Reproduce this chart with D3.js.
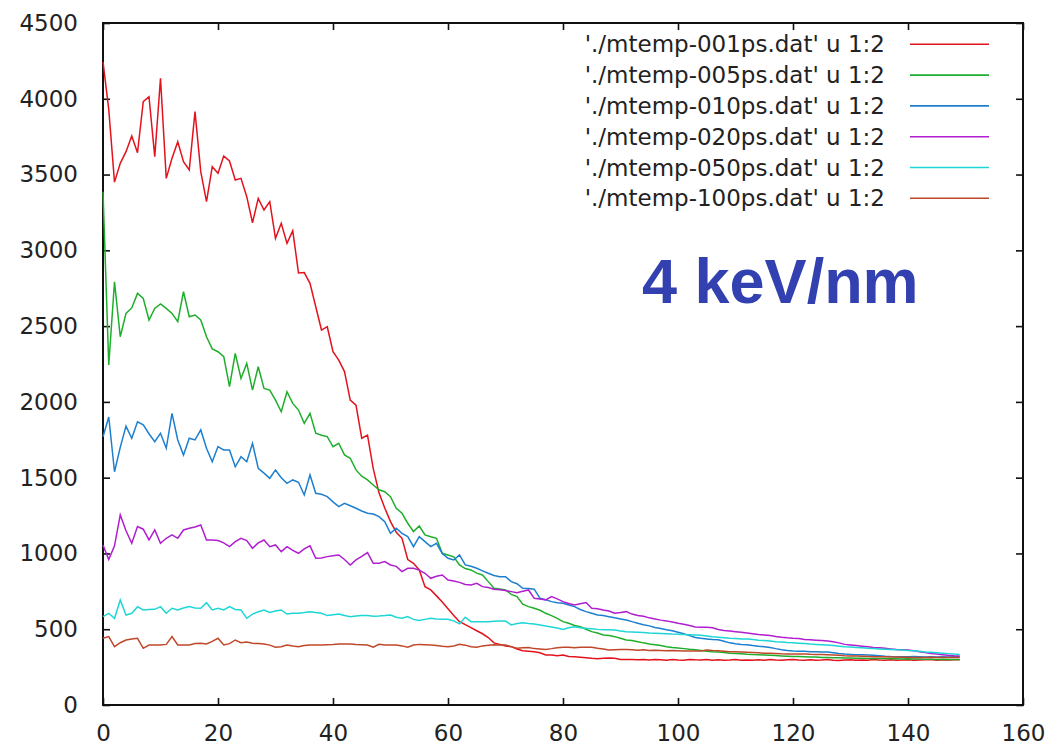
<!DOCTYPE html>
<html>
<head>
<meta charset="utf-8">
<script src="https://cdn.jsdelivr.net/npm/d3@7"></script>
<style>
  html, body { margin: 0; padding: 0; background: #fff; }
  svg { display: block; }
</style>
</head>
<body>
<svg id="chart" width="1049" height="745"></svg>
<script>
const xValues = [0,1,2,3,4,5,6,7,8,9,10,11,12,13,14,15,16,17,18,19,20,21,22,23,24,25,26,27,28,29,
30,31,32,33,34,35,36,37,38,39,40,41,42,43,44,45,46,47,48,49,50,51,52,53,54,55,56,57,58,59,
60,61,62,63,64,65,66,67,68,69,70,71,72,73,74,75,76,77,78,79,80,81,82,83,84,85,86,87,88,89,
90,91,92,93,94,95,96,97,98,99,100,101,102,103,104,105,106,107,108,109,110,111,112,113,114,115,116,117,118,119,
120,121,122,123,124,125,126,127,128,129,130,131,132,133,134,135,136,137,138,139,140,141,142,143,144,145,146,147,148,149];

const seriesNames = [
  "'./mtemp-001ps.dat' u 1:2",
  "'./mtemp-005ps.dat' u 1:2",
  "'./mtemp-010ps.dat' u 1:2",
  "'./mtemp-020ps.dat' u 1:2",
  "'./mtemp-050ps.dat' u 1:2",
  "'./mtemp-100ps.dat' u 1:2"
];

const temp001 = [4244,3930,3450,3574,3651,3754,3644,3981,4014,3618,
4135,3475,3607,3717,3585,3530,3915,3519,3321,3552,
3508,3622,3590,3464,3475,3354,3182,3343,3266,3321,
3079,3178,3046,3130,2850,2853,2782,2628,2474,2496,
2331,2276,2200,2012,1979,1760,1781,1560,1400,1300,
1210,1140,1100,960,935,891,781,759,720,680,
635,590,550,530,510,490,470,445,410,400,
390,385,370,358,355,352,345,330,330,325,
330,320,318,315,312,308,306,308,310,308,
300,301,300,298,300,297,300,298,296,300,
297,296,300,298,297,300,296,298,295,297,
300,296,297,295,298,296,300,297,296,298,
300,297,295,298,296,297,300,296,294,297,
298,295,297,296,300,297,295,298,296,297,
299,296,297,298,300,296,298,297,299,298];

const temp005 = [3387,2243,2793,2430,2584,2620,2716,2683,2540,2617,
2646,2617,2584,2529,2727,2562,2573,2540,2430,2350,
2331,2298,2100,2320,2155,2254,2078,2232,2089,2078,
2012,1935,2067,1990,1946,1858,1924,1793,1780,1771,
1704,1727,1650,1628,1551,1510,1485,1452,1420,1407,
1375,1298,1265,1199,1144,1181,1122,1110,1100,1001,
990,978,924,900,891,870,858,814,770,765,
759,730,715,665,649,638,625,605,590,572,
550,539,525,517,500,484,475,462,458,451,
440,429,425,418,410,403,398,392,385,380,
376,372,368,365,360,355,352,350,346,342,
340,338,335,333,332,330,328,326,324,322,
320,320,318,316,316,314,313,312,312,310,
310,309,308,307,307,306,306,305,305,304,
305,303,303,302,302,301,302,300,301,300];

const temp010 = [1770,1900,1539,1700,1840,1760,1869,1848,1790,1737,
1793,1694,1924,1749,1650,1760,1749,1815,1694,1605,
1705,1682,1682,1572,1638,1605,1727,1561,1530,1496,
1551,1500,1463,1485,1470,1386,1518,1397,1390,1375,
1340,1309,1331,1315,1298,1280,1265,1260,1243,1210,
1133,1166,1133,1111,1045,1111,1078,1045,1067,1000,
968,957,990,924,915,902,885,869,855,847,
847,814,800,770,768,764,704,695,682,675,
671,660,649,630,616,605,594,590,583,575,
568,561,550,540,530,522,512,505,496,490,
480,470,458,445,440,436,432,430,420,410,
404,400,398,392,388,385,380,372,365,360,
356,355,354,352,351,350,350,345,340,336,
334,332,331,330,328,325,322,320,319,318,
318,320,318,316,318,317,318,316,318,318];

const temp020 = [1056,960,1050,1254,1150,1067,1177,1160,1089,1155,
1067,1100,1122,1100,1155,1166,1175,1188,1089,1089,
1085,1070,1045,1078,1100,1085,1034,1070,1089,1045,
1056,1012,1045,1020,1001,1030,1050,968,970,979,
985,990,960,924,957,980,1006,935,935,946,
924,915,880,902,902,890,869,836,850,858,
825,818,809,795,792,803,781,775,764,760,
755,748,741,750,759,704,700,693,715,700,
682,670,660,668,676,638,635,627,620,605,
610,616,600,590,585,575,568,560,555,548,
540,533,525,515,513,513,510,498,492,488,
484,480,475,470,465,462,458,452,447,443,
440,438,432,430,428,425,422,418,410,400,
396,392,388,384,380,378,374,370,366,365,
363,358,352,346,340,336,332,328,325,323];

const temp050 = [583,605,572,693,594,605,649,627,630,631,
649,605,638,627,640,649,640,638,675,627,
638,627,649,630,627,572,600,615,627,610,
620,627,600,605,605,610,616,610,605,590,
595,600,590,583,588,590,590,585,587,590,
594,579,572,583,565,557,565,572,568,565,
565,555,535,579,550,550,550,550,552,554,
554,528,538,543,538,535,528,521,515,508,
499,510,517,510,506,503,499,497,496,495,
488,484,482,480,478,475,474,472,470,468,
467,465,464,462,460,455,450,447,444,440,
438,436,435,432,428,425,422,418,415,412,
411,408,405,402,400,398,396,392,388,384,
382,380,377,374,372,370,368,366,364,363,
360,358,355,350,348,345,342,339,336,334];

const temp100 = [440,451,385,411,429,435,440,374,396,396,
396,400,451,396,396,396,405,407,403,420,
440,396,405,429,411,415,407,405,403,395,
381,385,396,390,385,392,396,396,396,398,
400,403,403,403,400,398,396,381,400,396,
396,396,390,381,396,400,398,396,392,388,
385,390,400,395,385,381,390,395,398,396,
396,385,374,378,380,372,370,367,372,378,
381,381,378,381,381,381,375,370,363,365,
367,367,365,362,364,360,361,360,358,359,
358,356,357,356,356,363,360,358,355,352,
352,350,348,346,344,341,342,340,338,337,
337,336,337,335,334,333,332,330,328,325,
323,323,322,320,318,318,318,316,317,315,
315,314,314,314,315,314,313,314,314,314];

const xTicks = [0,20,40,60,80,100,120,140,160];
const yTicks = [0,500,1000,1500,2000,2500,3000,3500,4000,4500];
const titleText = "4 keV/nm";

const seriesValues = [temp001, temp005, temp010, temp020, temp050, temp100];
const colors = ["#e2131d", "#1fae2c", "#1c7fd0", "#b01ed0", "#1ed6d6", "#c0482a"];

const svg = d3.select("#chart");
const plotLeft = 103, plotRight = 1023, plotTop = 23, plotBottom = 705;

const x = d3.scaleLinear().domain([0, 160]).range([plotLeft, plotRight]);
const y = d3.scaleLinear().domain([0, 4500]).range([plotBottom, plotTop]);

const font = "DejaVu Sans, sans-serif";

// axes (ticks inward, mirrored)
const gLeft = svg.append("g").attr("transform", `translate(${plotLeft},0)`)
  .call(d3.axisLeft(y).tickValues(yTicks).tickSize(-7).tickPadding(25).tickFormat(d3.format("d")));
const gBottom = svg.append("g").attr("transform", `translate(0,${plotBottom})`)
  .call(d3.axisBottom(x).tickValues(xTicks).tickSize(-7).tickPadding(20).tickFormat(d3.format("d")));
const gRight = svg.append("g").attr("transform", `translate(${plotRight},0)`)
  .call(d3.axisRight(y).tickValues(yTicks).tickSize(-7).tickFormat(""));
const gTop = svg.append("g").attr("transform", `translate(0,${plotTop})`)
  .call(d3.axisTop(x).tickValues(xTicks).tickSize(-7).tickFormat(""));

[gLeft, gBottom, gRight, gTop].forEach(g => {
  g.select(".domain").remove();
  g.selectAll(".tick line").attr("stroke", "#111").attr("stroke-width", 1.6);
  g.selectAll(".tick text").attr("font-family", font).attr("font-size", 23).attr("fill", "#222");
});

// plot border
svg.append("rect")
  .attr("x", plotLeft).attr("y", plotTop)
  .attr("width", plotRight - plotLeft).attr("height", plotBottom - plotTop)
  .attr("fill", "none").attr("stroke", "#111").attr("stroke-width", 2);

// lines
const line = d3.line().x((d) => x(d[0])).y((d) => y(d[1]));
seriesValues.forEach((vals, i) => {
  const pts = xValues.map((xv, j) => [xv, vals[j]]);
  svg.append("path")
    .datum(pts)
    .attr("d", line)
    .attr("fill", "none")
    .attr("stroke", colors[i])
    .attr("stroke-width", 1.5)
    .attr("stroke-linejoin", "miter");
});

// legend
const legY = d3.scaleLinear().domain([0, 5]).range([44.3, 198.3]);
seriesNames.forEach((name, i) => {
  svg.append("text")
    .attr("x", 885).attr("y", legY(i) + 8)
    .attr("text-anchor", "end")
    .attr("font-family", font).attr("font-size", 23).attr("fill", "#222")
    .text(name);
  svg.append("line")
    .attr("x1", 910).attr("x2", 989)
    .attr("y1", legY(i)).attr("y2", legY(i))
    .attr("stroke", colors[i]).attr("stroke-width", 1.6);
});

// title
svg.append("text")
  .attr("x", 642).attr("y", 303)
  .attr("font-family", "Liberation Sans, Arial, sans-serif")
  .attr("font-weight", "bold")
  .attr("font-size", 63)
  .attr("fill", "#3341b0")
  .text(titleText);
</script>
</body>
</html>
